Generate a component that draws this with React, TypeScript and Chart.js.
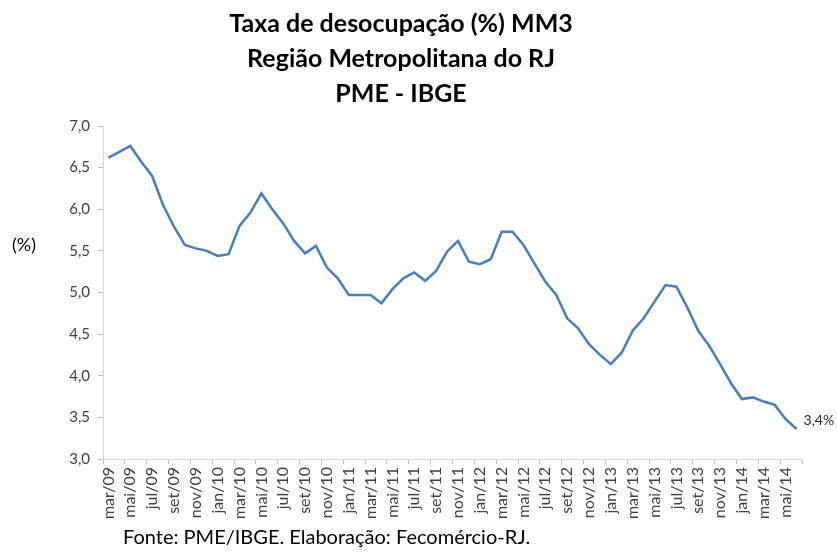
import React, { useEffect, useRef } from "react";
import { Chart, registerables } from "chart.js";

Chart.register(...registerables);

const TITLE_LINES = ["Taxa de desocupação (%) MM3", "Região Metropolitana do RJ", "PME - IBGE"];
const Y_AXIS_LABEL = "(%)";
const SOURCE_NOTE = "Fonte: PME/IBGE. Elaboração: Fecomércio-RJ.";
const LAST_VALUE_LABEL = "3,4%";

const MONTHS = [
  "mar/09", "abr/09", "mai/09", "jun/09", "jul/09", "ago/09", "set/09", "out/09", "nov/09", "dez/09",
  "jan/10", "fev/10", "mar/10", "abr/10", "mai/10", "jun/10", "jul/10", "ago/10", "set/10", "out/10", "nov/10", "dez/10",
  "jan/11", "fev/11", "mar/11", "abr/11", "mai/11", "jun/11", "jul/11", "ago/11", "set/11", "out/11", "nov/11", "dez/11",
  "jan/12", "fev/12", "mar/12", "abr/12", "mai/12", "jun/12", "jul/12", "ago/12", "set/12", "out/12", "nov/12", "dez/12",
  "jan/13", "fev/13", "mar/13", "abr/13", "mai/13", "jun/13", "jul/13", "ago/13", "set/13", "out/13", "nov/13", "dez/13",
  "jan/14", "fev/14", "mar/14", "abr/14", "mai/14", "jun/14",
];

const RATE = [
  6.62, 6.69, 6.76, 6.57, 6.40, 6.05, 5.79, 5.57, 5.53, 5.50,
  5.44, 5.46, 5.80, 5.96, 6.19, 6.00, 5.83, 5.62, 5.47, 5.56, 5.30, 5.17,
  4.97, 4.97, 4.97, 4.87, 5.04, 5.17, 5.24, 5.14, 5.26, 5.49, 5.62, 5.37,
  5.34, 5.40, 5.73, 5.73, 5.57, 5.35, 5.13, 4.97, 4.69, 4.57, 4.38, 4.25,
  4.14, 4.28, 4.54, 4.69, 4.89, 5.09, 5.07, 4.82, 4.54, 4.36, 4.14, 3.91,
  3.72, 3.74, 3.69, 3.65, 3.48, 3.36,
];

const Y_MIN = 3.0;
const Y_MAX = 7.0;
const Y_STEP = 0.5;

const FONT = "Lato";

const annotationsPlugin = {
  id: "annotations",
  afterDraw(chart: any) {
    const { ctx, chartArea } = chart;
    ctx.save();
    ctx.fillStyle = "#000000";
    ctx.font = `18px ${FONT}`;
    ctx.textAlign = "left";
    ctx.textBaseline = "middle";
    ctx.fillText(Y_AXIS_LABEL, 12, chartArea.top + 119);

    const meta = chart.getDatasetMeta(0);
    const last = meta.data[meta.data.length - 1];
    if (last) {
      ctx.fillStyle = "#262626";
      ctx.font = `14px ${FONT}`;
      ctx.fillText(LAST_VALUE_LABEL, last.x + 7, last.y - 9);
    }

    ctx.fillStyle = "#000000";
    ctx.font = `20px ${FONT}`;
    ctx.textBaseline = "alphabetic";
    ctx.fillText(SOURCE_NOTE, 123, 544);
    ctx.restore();
  },
};

export default function App() {
  const canvasRef = useRef<HTMLCanvasElement | null>(null);

  useEffect(() => {
    document.body.style.margin = "0";
    const canvas = canvasRef.current;
    if (!canvas) return;
    const chart = new Chart(canvas, {
      type: "line",
      data: {
        labels: MONTHS,
        datasets: [
          {
            data: RATE,
            borderColor: "#4A7EBB",
            borderWidth: 2.5,
            pointRadius: 0,
            fill: false,
            tension: 0,
          },
        ],
      },
      options: {
        responsive: false,
        animation: false,
        layout: { padding: { left: 0, right: 35, top: 0, bottom: 0 } },
        plugins: {
          legend: { display: false },
          tooltip: { enabled: false },
          title: {
            display: true,
            text: TITLE_LINES,
            color: "#000000",
            font: { family: FONT, size: 25, weight: "bold", lineHeight: 1.4 },
            padding: { top: 6, bottom: 15 },
          },
        },
        scales: {
          x: {
            type: "category",
            offset: true,
            grid: {
              display: true,
              drawOnChartArea: false,
              offset: true,
              tickLength: 5,
              lineWidth: 1,
              color: (c: any) =>
                c.index === undefined || c.index % 2 === 0 ? "#BFBFBF" : "rgba(0,0,0,0)",
            },
            border: { display: true, color: "#D9D9D9", width: 1 },
            ticks: {
              autoSkip: false,
              maxRotation: 90,
              minRotation: 90,
              padding: 3,
              color: "#404040",
              font: { family: FONT, size: 16 },
              callback: function (this: any, val: any, idx: number) {
                return idx % 2 === 0 ? this.getLabelForValue(val) : "";
              },
            },
            afterFit: (s: any) => {
              s.height = 93;
            },
          },
          y: {
            min: Y_MIN,
            max: Y_MAX,
            grid: { drawOnChartArea: false, tickLength: 5, color: "#BFBFBF" },
            border: { display: true, color: "#D9D9D9", width: 1 },
            ticks: {
              stepSize: Y_STEP,
              padding: 8,
              color: "#404040",
              font: { family: FONT, size: 15 },
              callback: (v: any) => Number(v).toFixed(1).replace(".", ","),
            },
            afterFit: (s: any) => {
              s.width = 103;
            },
          },
        },
      },
      plugins: [annotationsPlugin],
    });
    return () => chart.destroy();
  }, []);

  return (
    <div style={{ position: "absolute", left: 0, top: 0, width: 837, height: 552 }}>
      <canvas ref={canvasRef} width={837} height={552} />
    </div>
  );
}
